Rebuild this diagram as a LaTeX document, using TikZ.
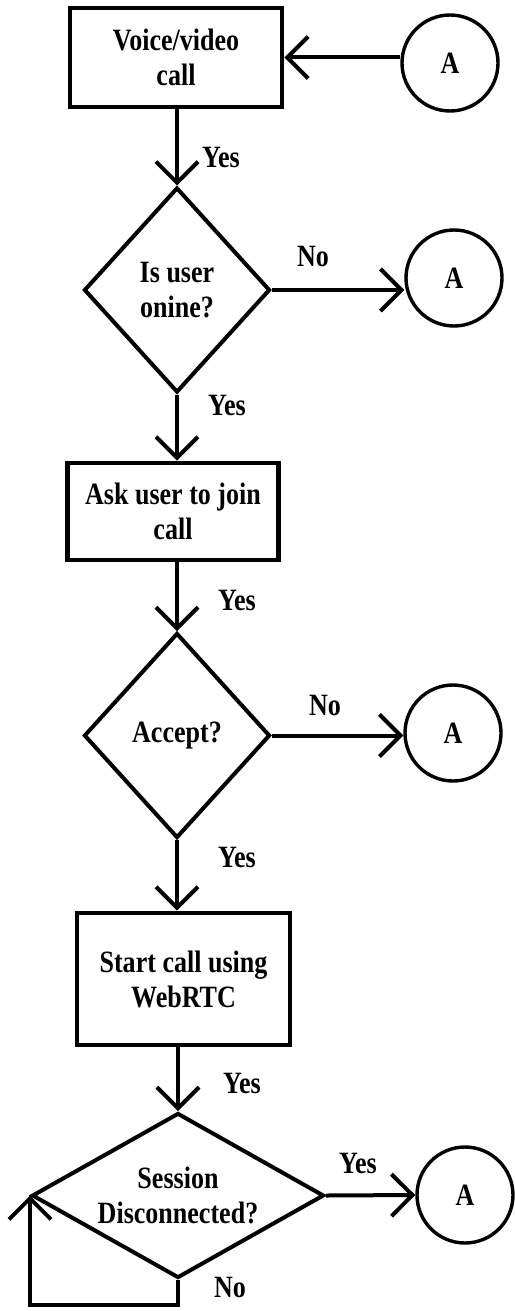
\documentclass[tikz,border=0pt]{standalone}
\usepackage{fontspec}
\setmainfont{Liberation Serif}[FakeStretch=0.84]
\usetikzlibrary{shapes.geometric, arrows.meta}

\begin{document}
\begin{tikzpicture}[x=0.5pt, y=-0.5pt,
        font=\fontsize{15.5}{17.5}\selectfont\bfseries,
        process/.style={draw, rectangle, line width=2.4pt, align=center, inner sep=0pt},
        decision/.style={draw, diamond, line width=2pt, align=center, inner sep=0pt},
        connector/.style={draw, circle, line width=1.7pt, minimum size=48pt, inner sep=0pt},
        flow/.style={line width=2pt, -{Straight Barb[length=10.5pt, width=21pt]}},
        lbl/.style={inner sep=0pt}]
        \useasboundingbox (0, 0) rectangle (514, 1311);

        % steps
        \node[process, minimum width=106pt, minimum height=49.5pt] (voice) at (176, 57.5) {Voice/video\\call};
        \node[decision, minimum width=93pt, minimum height=102.5pt] (online) at (177, 290) {Is user\\onine?};
        \node[process, minimum width=105.5pt, minimum height=48.5pt] (ask) at (173, 511.5) {Ask user to join\\call};
        \node[decision, minimum width=93pt, minimum height=102.5pt] (accept) at (177, 735.5) {Accept?};
        \node[process, minimum width=106.5pt, minimum height=66pt] (start) at (183.5, 979) {Start call using\\WebRTC};
        \node[decision, aspect=1.77, minimum width=146pt, minimum height=82.5pt] (session) at (178, 1195.5) {Session\\Disconnected?};

        % connectors
        \node[connector] (a1) at (450, 63) {A};
        \node[connector] (a2) at (454, 278) {A};
        \node[connector] (a3) at (453, 733) {A};
        \node[connector] (a4) at (465, 1195) {A};

        \draw[flow] (a1.west |- voice.east) -- (voice.east);
        \draw[flow] (voice.south -| online.north) -- (online.north);
        \draw[flow] (online.east) -- (online.east -| a2.west);
        \draw[flow] (online.south) -- (online.south |- ask.north);
        \draw[flow] (ask.south -| accept.north) -- (accept.north);
        \draw[flow] (accept.east) -- (accept.east -| a3.west);
        \draw[flow] (accept.south) -- (accept.south |- start.north);
        \draw[flow] (start.south -| session.north) -- (session.north);
        \draw[flow] (session.east) -- (a4.west);
        \draw[flow] (session.south) -- ++(0, 25) -| (session.west);

        % labels
        \node[lbl] (yes1) at (221, 158) {Yes};
        \node[lbl] (no1) at (313, 257) {No};
        \node[lbl] (yes2) at (227, 405) {Yes};
        \node[lbl] (yes3) at (237, 600) {Yes};
        \node[lbl] (no2) at (325, 705) {No};
        \node[lbl] (yes4) at (237, 857) {Yes};
        \node[lbl] (yes5) at (242, 1083) {Yes};
        \node[lbl] (yes6) at (358, 1163) {Yes};
        \node[lbl] (no3) at (230, 1287) {No};
\end{tikzpicture}
\end{document}
